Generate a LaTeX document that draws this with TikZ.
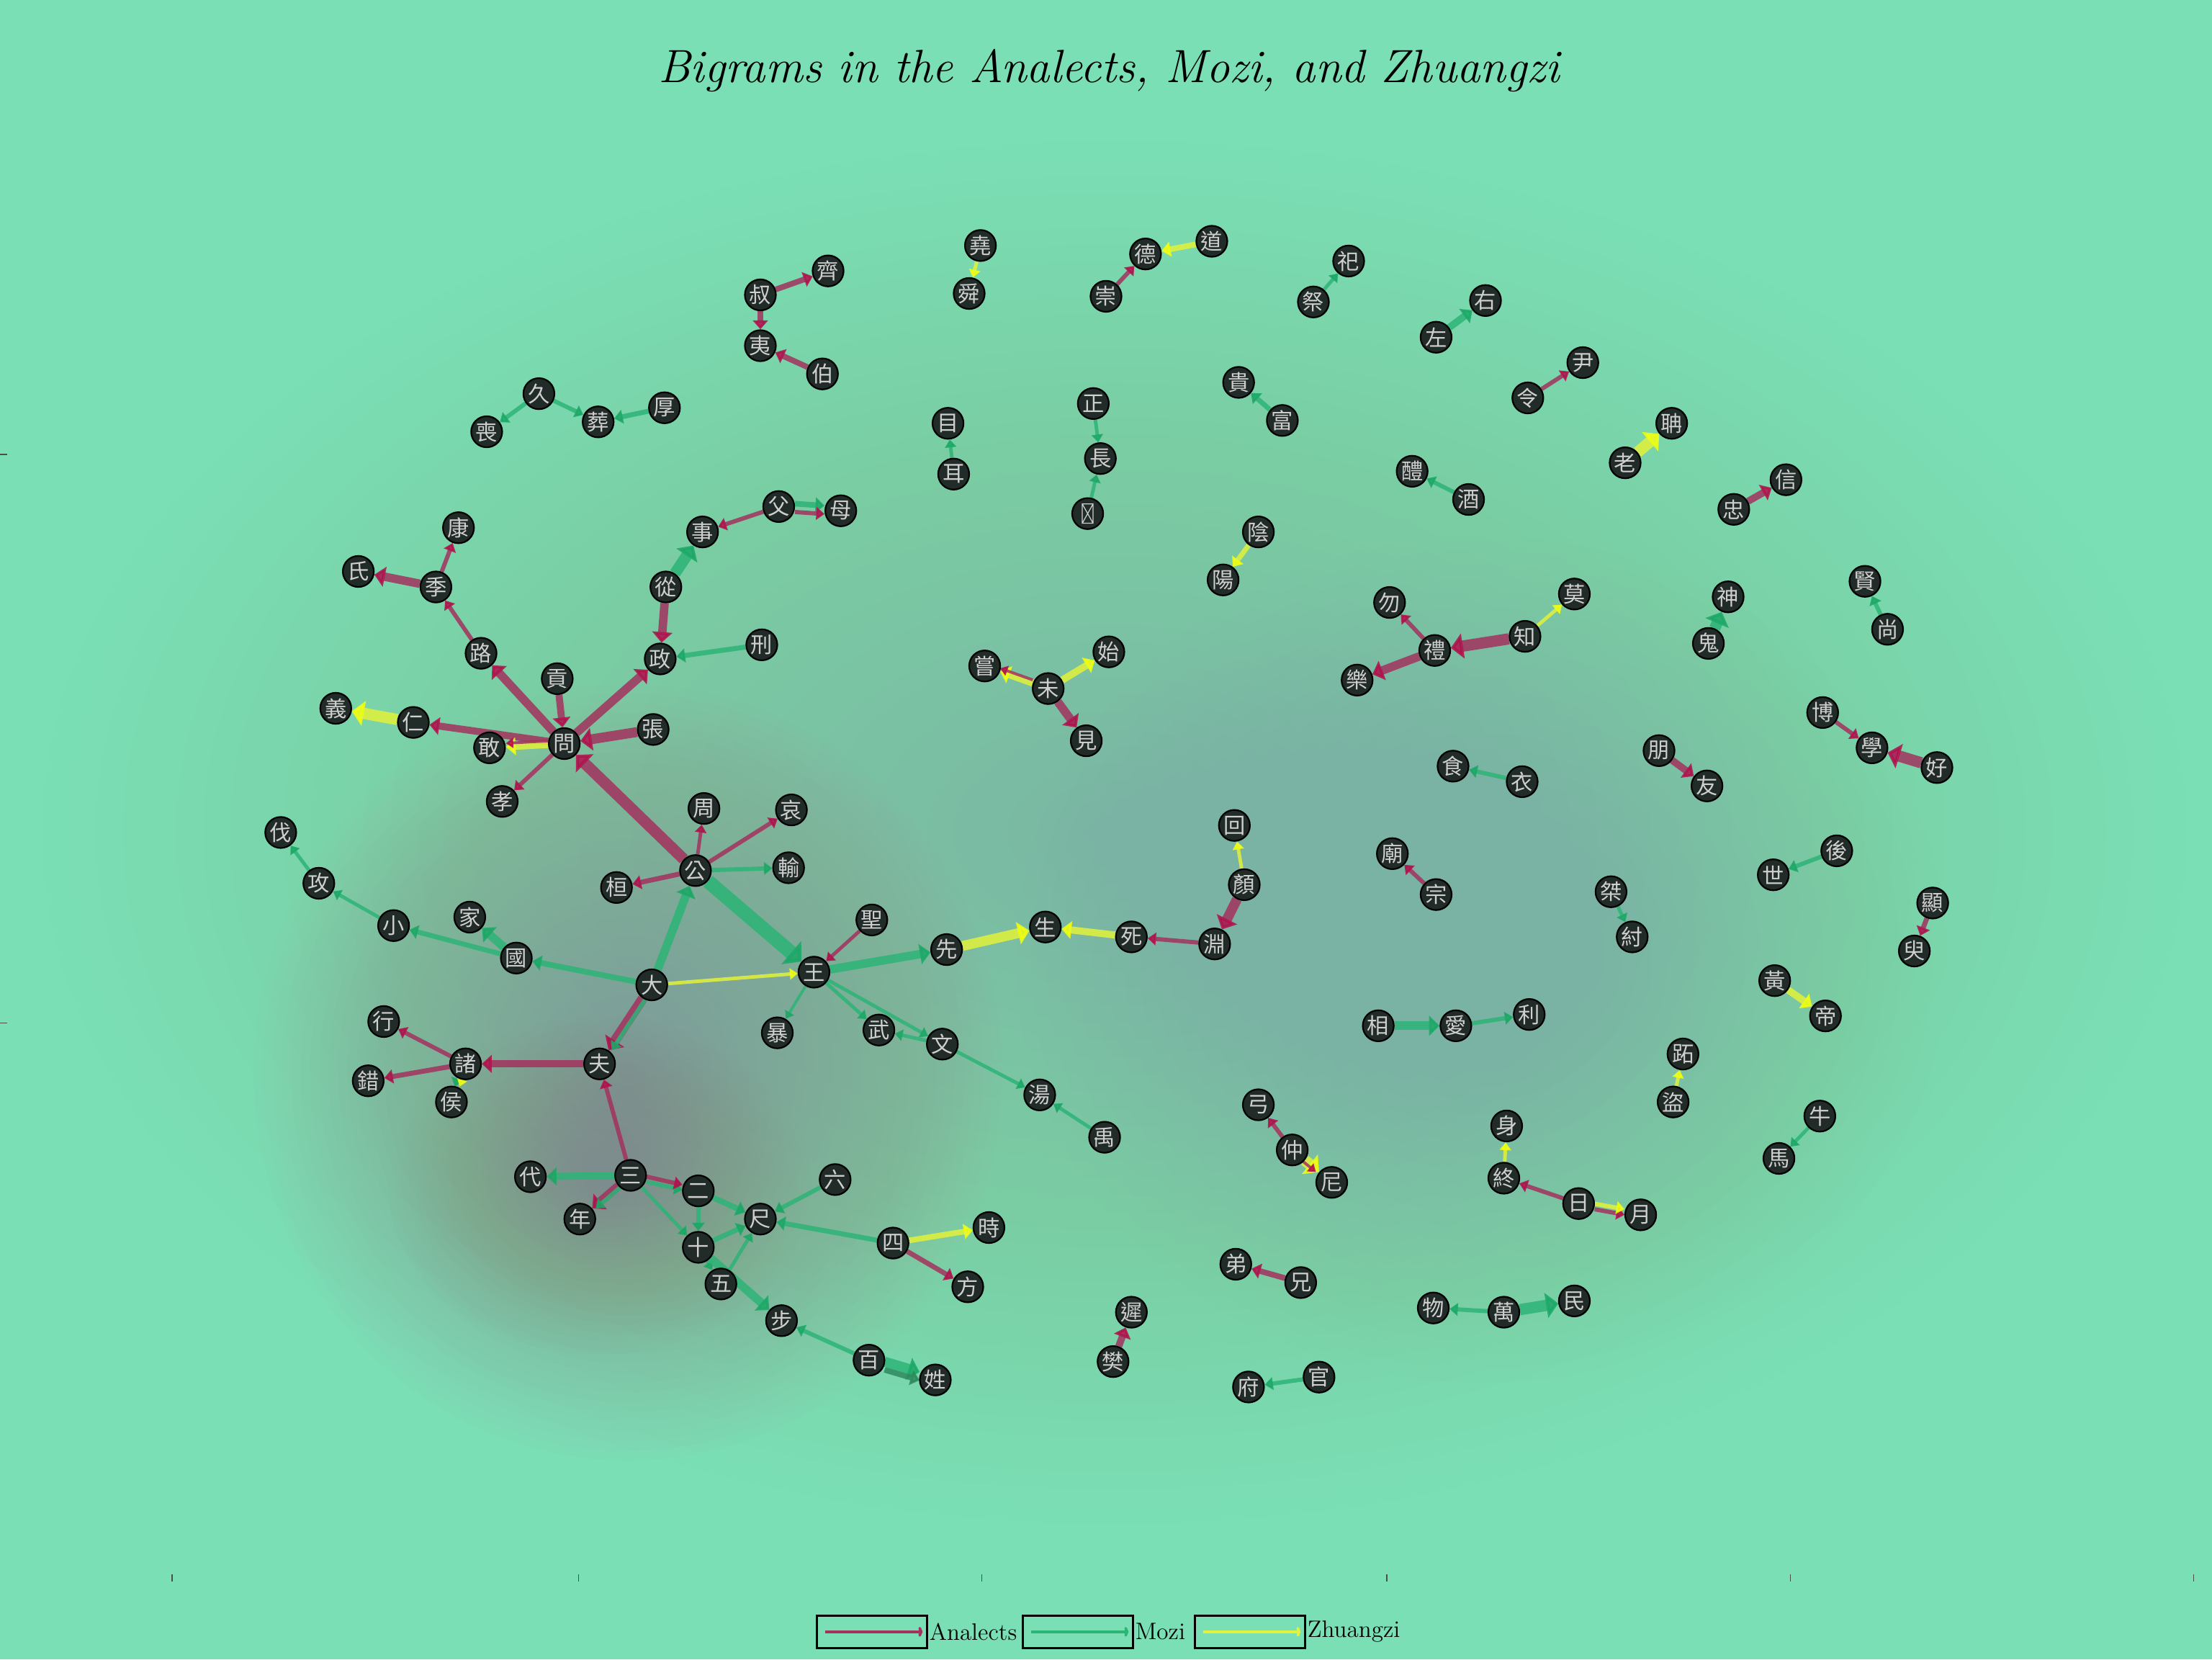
\documentclass[tikz,border=0pt]{standalone}
\usepackage{fontspec}
\newfontfamily\cjk{Noto Sans CJK TC}
\usetikzlibrary{arrows.meta}
\definecolor{bgmint}{HTML}{7ADFB5}
\definecolor{midgray}{HTML}{8FB3A3}
\definecolor{blobgray}{HTML}{9C9A98}
\definecolor{blobmauve}{HTML}{A88C8C}
\definecolor{anlc}{HTML}{A3325E}
\definecolor{anlh}{HTML}{B0104C}
\definecolor{mozc}{HTML}{2DB477}
\definecolor{mozh}{HTML}{1BA866}
\definecolor{mozd}{HTML}{2E8A5E}
\definecolor{zhuc}{HTML}{E2F23A}
\definecolor{zhuh}{HTML}{F2FF10}
\definecolor{nodefill}{HTML}{212B28}
\definecolor{nodetext}{HTML}{CFCFCF}
\pgfdeclarelayer{bg}
\pgfdeclarelayer{edges}
\pgfsetlayers{bg,edges,main}
\tikzset{
  w/.style={circle, fill=nodefill, draw=black, line width=0.8pt, minimum size=5.5mm,
    inner sep=0pt, text=nodetext, font=\cjk\fontsize{11}{11}\selectfont},
  edgebase/.style={opacity=0.85},
  anl/.style={edgebase, draw=anlc, -{Triangle[length=3pt 0.55, width=2.6pt 1.75, color=anlh]}},
  moz/.style={edgebase, draw=mozc, -{Triangle[length=3pt 0.55, width=2.6pt 1.75, color=mozh]}},
  mozdark/.style={edgebase, draw=mozd, -{Triangle[length=3pt 0.55, width=2.6pt 1.75, color=mozd]}},
  zhu/.style={edgebase, draw=zhuc, -{Triangle[length=3pt 0.55, width=2.6pt 1.75, color=zhuh]}},
  legbox/.style={draw=black, line width=1pt, minimum width=19.5mm, minimum height=5.75mm, inner sep=0pt},
  legtext/.style={anchor=west, inner sep=0.6pt, font=\fontsize{12}{14}\selectfont},
  tick/.style={draw=black!70, line width=0.5pt}
}
\newcommand\anl[4][]{\draw[anl, line width=#2*0.71pt, #1] (#3) -- (#4);}
\newcommand\moz[4][]{\draw[moz, line width=#2*0.71pt, #1] (#3) -- (#4);}
\newcommand\zhu[4][]{\draw[zhu, line width=#2*0.71pt, #1] (#3) -- (#4);}
\begin{document}
\begin{tikzpicture}[x=0.25mm, y=-0.25mm]
\useasboundingbox (0,0) rectangle (1568,1176);
\begin{pgfonlayer}{bg}
\fill[bgmint] (0,0) rectangle (1568,1176);
\foreach \k in {1,...,40}{\fill[midgray, fill opacity=0.019] (790,590) ellipse ({\k/40*760} and {\k/40*490});}
\foreach \k in {1,...,30}{\fill[midgray, fill opacity=0.012] (1050,680) ellipse ({\k/30*330} and {\k/30*300});}
\foreach \k in {1,...,40}{\fill[blobgray, fill opacity=0.033] (445,760) ellipse ({\k/40*265} and {\k/40*275});}
\foreach \k in {1,...,30}{\fill[blobmauve, fill opacity=0.018] (425,840) ellipse ({\k/30*150} and {\k/30*120});}
\end{pgfonlayer}
% ticks
\draw[tick] (0,322) -- (5,322);
\draw[tick] (0,725) -- (5,725);
\foreach \tx in {122,410,696,983,1269,1555}{\draw[tick] (\tx,1116) -- (\tx,1121);}
% title
\node[font=\fontsize{23.5}{28}\selectfont\itshape] (title) at (786,50) {Bigrams in the Analects, Mozi, and Zhuangzi};
% ---------------- nodes
\node[w] (kang) at (325,374) {康};
\node[w] (shi) at (254,405) {氏};
\node[w] (ji) at (309,416) {季};
\node[w] (lu) at (341,463) {路};
\node[w] (gong) at (395,481) {貢};
\node[w] (wen) at (400,527) {問};
\node[w] (ren) at (293,512) {仁};
\node[w] (yi) at (238,502) {義};
\node[w] (gan) at (347,530) {敢};
\node[w] (zhang) at (463,517) {張};
\node[w] (xiao) at (356,568) {孝};
\node[w] (zheng) at (468,467) {政};
\node[w] (xing) at (540,457) {刑};
\node[w] (cong) at (472,416) {從};
\node[w] (shiB) at (498,377) {事};
\node[w] (fu) at (552,359) {父};
\node[w] (mu) at (596,362) {母};
\node[w] (zhou) at (499,573) {周};
\node[w] (ai) at (561,574) {哀};
\node[w] (fa) at (199,590) {伐};
\node[w] (gongB) at (226,626) {攻};
\node[w] (xiaoB) at (279,656) {小};
\node[w] (jia) at (333,650) {家};
\node[w] (guo) at (366,679) {國};
\node[w] (da) at (462,698) {大};
\node[w] (gongC) at (493,617) {公};
\node[w] (huan) at (437,629) {桓};
\node[w] (shu) at (559,615) {輸};
\node[w] (sheng) at (618,652) {聖};
\node[w] (wang) at (577,689) {王};
\node[w] (bao) at (551,732) {暴};
\node[w] (wu) at (623,730) {武};
\node[w] (fuB) at (425,754) {夫};
\node[w] (zhu) at (330,754) {諸};
\node[w] (hang) at (272,724) {行};
\node[w] (cuo) at (261,766) {錯};
\node[w] (hou) at (320,781) {侯};
\node[w] (wenB) at (668,740) {文};
\node[w] (tang) at (737,776) {湯};
\node[w] (yu) at (783,806) {禹};
\node[w] (xian) at (671,673) {先};
\node[w] (shengB) at (741,657) {生};
\node[w] (si) at (802,664) {死};
\node[w] (yuan) at (861,669) {淵};
\node[w] (yan) at (882,627) {顏};
\node[w] (hui) at (875,585) {回};
\node[w] (dai) at (376,834) {代};
\node[w] (san) at (447,833) {三};
\node[w] (nian) at (411,864) {年};
\node[w] (er) at (495,844) {二};
\node[w] (liu) at (592,836) {六};
\node[w] (chi) at (539,864) {尺};
\node[w] (shiC) at (495,884) {十};
\node[w] (wuB) at (511,910) {五};
\node[w] (siB) at (633,881) {四};
\node[w] (shiD) at (701,870) {時};
\node[w] (fang) at (686,912) {方};
\node[w] (bu) at (554,936) {步};
\node[w] (bai) at (616,964) {百};
\node[w] (xingB) at (663,978) {姓};
\node[w] (shuB) at (539,209) {叔};
\node[w] (qi) at (587,192) {齊};
\node[w] (yiB) at (539,245) {夷};
\node[w] (bo) at (583,265) {伯};
\node[w] (jiu) at (382,279) {久};
\node[w] (sang) at (345,306) {喪};
\node[w] (zang) at (424,299) {葬};
\node[w] (houB) at (471,289) {厚};
\node[w] (yao) at (695,174) {堯};
\node[w] (shun) at (687,208) {舜};
\node[w] (de) at (812,180) {德};
\node[w] (dao) at (859,171) {道};
\node[w] (chong) at (784,210) {崇};
\node[w] (siC) at (956,185) {祀};
\node[w] (jiB) at (931,214) {祭};
\node[w] (you) at (1053,213) {右};
\node[w] (zuo) at (1018,239) {左};
\node[w] (muB) at (672,300) {目};
\node[w] (erB) at (676,336) {耳};
\node[w] (zhengB) at (775,286) {正};
\node[w] (chang) at (780,325) {長};
\node[w] (tofu) at (771,364) {};
\draw[nodetext, line width=0.45pt] ([shift={(-0.95mm,-1.7mm)}]tofu.center) rectangle ([shift={(0.95mm,1.7mm)}]tofu.center)
  ([shift={(-0.95mm,-1.7mm)}]tofu.center) -- ([shift={(0.95mm,1.7mm)}]tofu.center)
  ([shift={(-0.95mm,1.7mm)}]tofu.center) -- ([shift={(0.95mm,-1.7mm)}]tofu.center);
\node[w] (gui) at (878,271) {貴};
\node[w] (fuC) at (909,298) {富};
\node[w] (li) at (1001,334) {醴};
\node[w] (jiuB) at (1041,354) {酒};
\node[w] (yin) at (892,377) {陰};
\node[w] (yang) at (867,411) {陽};
\node[w] (ling) at (1083,282) {令};
\node[w] (yinB) at (1122,257) {尹};
\node[w] (dan) at (1185,300) {聃};
\node[w] (lao) at (1152,328) {老};
\node[w] (zhong) at (1229,361) {忠};
\node[w] (xin) at (1266,340) {信};
\node[w] (changB) at (698,472) {嘗};
\node[w] (wei) at (743,488) {未};
\node[w] (shiE) at (786,462) {始};
\node[w] (jian) at (770,525) {見};
\node[w] (wuC) at (985,427) {勿};
\node[w] (liB) at (1017,461) {禮};
\node[w] (yue) at (962,482) {樂};
\node[w] (zhi) at (1081,451) {知};
\node[w] (mo) at (1116,421) {莫};
\node[w] (shen) at (1225,423) {神};
\node[w] (guiB) at (1211,456) {鬼};
\node[w] (xianB) at (1322,412) {賢};
\node[w] (shang) at (1338,446) {尚};
\node[w] (boB) at (1292,505) {博};
\node[w] (xue) at (1327,530) {學};
\node[w] (hao) at (1373,544) {好};
\node[w] (peng) at (1176,532) {朋};
\node[w] (youB) at (1210,557) {友};
\node[w] (shiF) at (1030,543) {食};
\node[w] (yiC) at (1079,554) {衣};
\node[w] (miao) at (987,605) {廟};
\node[w] (zong) at (1018,634) {宗};
\node[w] (jie) at (1142,632) {桀};
\node[w] (zhouB) at (1157,664) {紂};
\node[w] (shiG) at (1257,620) {世};
\node[w] (houC) at (1302,603) {後};
\node[w] (xianC) at (1370,640) {顯};
\node[w] (yuB) at (1357,674) {臾};
\node[w] (huang) at (1258,695) {黃};
\node[w] (di) at (1294,720) {帝};
\node[w] (xiang) at (977,727) {相};
\node[w] (aiB) at (1032,727) {愛};
\node[w] (liC) at (1084,719) {利};
\node[w] (zhiB) at (1193,747) {跖};
\node[w] (daoB) at (1186,781) {盜};
\node[w] (niu) at (1290,791) {牛};
\node[w] (ma) at (1261,821) {馬};
\node[w] (gongD) at (892,783) {弓};
\node[w] (zhongB) at (916,815) {仲};
\node[w] (ni) at (944,838) {尼};
\node[w] (shenB) at (1068,798) {身};
\node[w] (zhongC) at (1066,835) {終};
\node[w] (ri) at (1119,853) {日};
\node[w] (yueB) at (1163,861) {月};
\node[w] (diB) at (876,896) {弟};
\node[w] (xiong) at (922,909) {兄};
\node[w] (wuD) at (1016,927) {物};
\node[w] (wan) at (1066,930) {萬};
\node[w] (min) at (1116,922) {民};
\node[w] (fuD) at (885,983) {府};
\node[w] (guan) at (935,976) {官};
\node[w] (chiB) at (802,930) {遲};
\node[w] (fan) at (789,965) {樊};
% ---------------- edges
\begin{pgfonlayer}{edges}
% big cluster
\moz{10}{gongC}{wang}
\anl{8}{gongC}{wen}
\moz{6}{da}{gongC}
\moz{4}{da}{guo}
\moz{3.5}{guo}{xiaoB}
\moz{2.5}{xiaoB}{gongB}
\moz{2.5}{gongB}{fa}
\moz{6}{guo}{jia}
\zhu{2.5}{da}{wang}
\anl{2.5}{sheng}{wang}
\moz{6}{wang}{xian}
\zhu{7}{xian}{shengB}
\zhu{5}{si}{shengB}
\anl{3}{yuan}{si}
\anl{7}{yan}{yuan}
\zhu{2.5}{yan}{hui}
\moz{2}{wang}{bao}
\moz{2.5}{wang}{wu}
\moz{2.5}{wang}{wenB}
\moz{2.5}{wenB}{wu}
\moz{2.5}{wenB}{tang}
\moz{2.5}{yu}{tang}
\anl{3.5}{gongC}{huan}
\anl{2.5}{gongC}{zhou}
\anl{3}{gongC}{ai}
\moz{3}{gongC}{shu}
\anl{7}{da}{fuB}
\moz[transform canvas={xshift=1.6pt}]{3}{da}{fuB}
\anl{5}{fuB}{zhu}
\anl{3}{zhu}{hang}
\anl{3.5}{zhu}{cuo}
\moz[transform canvas={xshift=-1.2pt}]{3}{zhu}{hou}
\zhu[transform canvas={xshift=1.2pt}]{2}{zhu}{hou}
\anl{3}{san}{fuB}
\moz{5}{san}{dai}
\anl{6}{san}{nian}
\moz[transform canvas={xshift=1.8pt}]{3}{san}{nian}
\moz[transform canvas={yshift=-1.4pt}]{3}{san}{er}
\anl[transform canvas={yshift=1.2pt}]{3}{san}{er}
\moz{4}{er}{chi}
\moz{2.5}{san}{shiC}
\moz{3}{er}{shiC}
\moz{3.5}{shiC}{chi}
\moz{2.5}{wuB}{chi}
\moz{2.5}{shiC}{wuB}
\moz{6}{shiC}{bu}
\moz{3}{liu}{chi}
\moz{3.5}{siB}{chi}
\zhu{4}{siB}{shiD}
\anl{3.5}{siB}{fang}
\moz{3}{bai}{bu}
\moz[transform canvas={yshift=1.6pt}]{7}{bai}{xingB}
\draw[mozdark, line width=4*0.71pt, transform canvas={yshift=-2.5pt}] (bai) -- (xingB);
% upper left
\anl{3}{ji}{kang}
\anl{6}{ji}{shi}
\anl{3}{lu}{ji}
\anl{6}{wen}{lu}
\anl{5}{gong}{wen}
\anl{6}{wen}{zheng}
\anl{7}{zhang}{wen}
\anl{5}{wen}{ren}
\zhu{8}{ren}{yi}
\zhu{5}{wen}{gan}
\anl[transform canvas={yshift=1.8pt}]{2}{wen}{gan}
\anl{3}{wen}{xiao}
\anl{6}{cong}{zheng}
\moz{8}{cong}{shiB}
\anl{3}{fu}{shiB}
\moz[transform canvas={yshift=2pt}]{4}{fu}{mu}
\anl[transform canvas={yshift=-2.2pt}]{3}{fu}{mu}
\moz{3.5}{xing}{zheng}
% scattered pairs
\anl{4}{shuB}{qi}
\anl{4}{shuB}{yiB}
\anl{4}{bo}{yiB}
\moz{3}{jiu}{sang}
\moz{3}{jiu}{zang}
\moz{3.5}{houB}{zang}
\zhu{2.5}{yao}{shun}
\anl{3}{chong}{de}
\zhu{4}{dao}{de}
\moz{2.5}{jiB}{siC}
\moz{5}{zuo}{you}
\moz{2.5}{erB}{muB}
\moz{2.5}{zhengB}{chang}
\moz{2.5}{tofu}{chang}
\moz{3.5}{fuC}{gui}
\moz{3}{jiuB}{li}
\zhu{3.5}{yin}{yang}
\anl{3}{ling}{yinB}
\zhu{8}{lao}{dan}
\anl{5}{zhong}{xin}
\zhu{5}{wei}{changB}
\anl[transform canvas={yshift=1.6pt}]{2}{wei}{changB}
\zhu{5}{wei}{shiE}
\anl{6}{wei}{jian}
\anl{3}{liB}{wuC}
\anl{6}{liB}{yue}
\anl{8}{zhi}{liB}
\zhu{2.5}{zhi}{mo}
\moz{8}{guiB}{shen}
\moz{3}{shang}{xianB}
\anl{3}{boB}{xue}
\anl{8}{hao}{xue}
\anl{5}{peng}{youB}
\moz{3}{yiC}{shiF}
\anl{3}{zong}{miao}
\moz{2.5}{jie}{zhouB}
\moz{3}{houC}{shiG}
\anl{3.5}{xianC}{yuB}
\zhu{5}{huang}{di}
\moz{6}{xiang}{aiB}
\moz{3}{aiB}{liC}
\zhu{2.5}{daoB}{zhiB}
\moz{2.5}{niu}{ma}
\anl{3}{zhongB}{gongD}
\zhu{8}{zhongB}{ni}
\anl[transform canvas={xshift=-1.6pt}]{2}{zhongB}{ni}
\zhu{2.5}{zhongC}{shenB}
\anl{3}{ri}{zhongC}
\anl[transform canvas={yshift=-1.4pt}]{3}{ri}{yueB}
\zhu[transform canvas={yshift=1.4pt}]{3}{ri}{yueB}
\anl{4}{xiong}{diB}
\moz{3}{wan}{wuD}
\moz{8}{wan}{min}
\moz{3}{guan}{fuD}
\anl{5}{fan}{chiB}
\end{pgfonlayer}
% legend
\node[legbox] (lb1) at (618,1156.5) {};
\draw[anlc, line width=1.4pt, -{To[length=2.2pt, width=5pt]}] ([xshift=1.6mm]lb1.west) -- ([xshift=-0.9mm]lb1.east);
\node[legtext] (lt1) at (lb1.east) {Analects};
\node[legbox] (lb2) at (764,1156.5) {};
\draw[mozc, line width=1.4pt, -{To[length=2.2pt, width=5pt]}] ([xshift=1.6mm]lb2.west) -- ([xshift=-0.9mm]lb2.east);
\node[legtext] (lt2) at (lb2.east) {Mozi};
\node[legbox] (lb3) at (886,1156.5) {};
\draw[zhuc, line width=1.4pt, -{To[length=2.2pt, width=5pt]}] ([xshift=1.6mm]lb3.west) -- ([xshift=-0.9mm]lb3.east);
\node[legtext] (lt3) at (lb3.east) {Zhuangzi};
\end{tikzpicture}
\end{document}
